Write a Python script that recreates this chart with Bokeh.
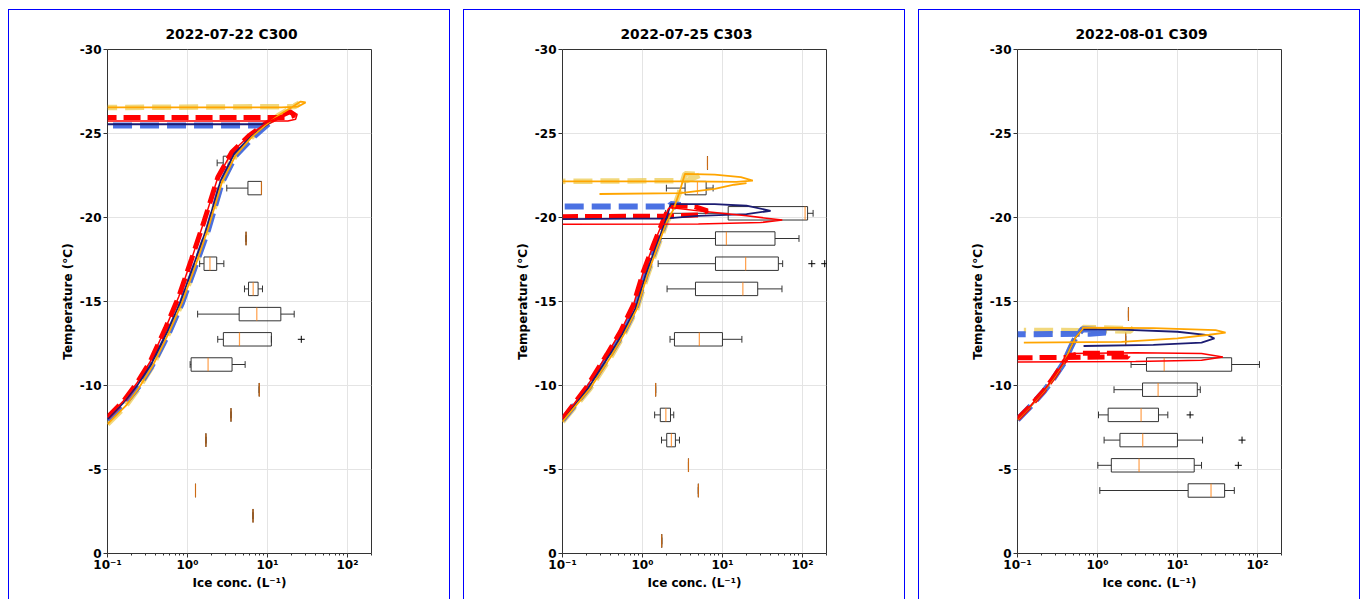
from bokeh.plotting import figure
from bokeh.models import Range1d, FixedTicker, ColumnDataSource
from bokeh.layouts import row
from bokeh.embed import file_html
from bokeh.resources import INLINE

TITLES = ["2022-07-22 C300", "2022-07-25 C303", "2022-08-01 C309"]
X_TICKS = [0.1, 1, 10, 100]
X_TICK_LABELS = ["10⁻¹", "10⁰", "10¹", "10²"]
Y_TICKS = [-30, -25, -20, -15, -10, -5, 0]
Y_TICK_LABELS = ["-30", "-25", "-20", "-15", "-10", "-5", "0"]

# ---------------- boxplot statistics (temperature bin centre, whiskers, quartiles, median)
P1_T = [-23.25, -21.75, -18.75, -17.25, -15.75, -14.25, -12.75, -11.25, -9.75, -8.25, -6.75, -3.75, -2.25]
P1_LO = [2.35, 3.1, 5.4, 1.42, 5.16, 1.34, 2.39, 1.08, 7.9, 3.5, 1.7, 1.26, 6.6]
P1_Q1 = [2.8, 5.7, 5.4, 1.61, 5.8, 4.43, 2.81, 1.11, 7.9, 3.5, 1.7, 1.26, 6.6]
P1_MED = [3.2, 8.4, 5.4, 1.91, 6.63, 7.36, 4.47, 1.81, 7.9, 3.5, 1.7, 1.26, 6.6]
P1_Q3 = [3.47, 8.43, 5.4, 2.32, 7.64, 14.7, 11.2, 3.61, 7.9, 3.5, 1.7, 1.26, 6.6]
P1_HI = [3.47, 8.43, 5.4, 2.85, 8.67, 21.6, 11.2, 5.26, 7.9, 3.5, 1.7, 1.26, 6.6]
P1_FLIER_T = [-12.75]
P1_FLIER_X = [26.5]

P2_T = [-23.25, -21.75, -20.25, -18.75, -17.25, -15.75, -12.75, -9.75, -8.25, -6.75, -5.25, -3.75, -0.75]
P2_LO = [6.5, 1.99, 1.95, 1.51, 1.57, 2.03, 2.21, 1.46, 1.42, 1.73, 3.76, 5.0, 1.74]
P2_Q1 = [6.5, 3.41, 11.8, 8.18, 8.18, 4.6, 2.51, 1.46, 1.67, 2.01, 3.76, 5.0, 1.74]
P2_MED = [6.5, 4.87, 108, 11.2, 19.5, 18.0, 5.14, 1.46, 1.96, 2.30, 3.76, 5.0, 1.74]
P2_Q3 = [6.5, 6.25, 116, 45.4, 50.0, 27.6, 10.0, 1.46, 2.24, 2.58, 3.76, 5.0, 1.74]
P2_HI = [6.5, 7.64, 136, 90.6, 56.6, 55.5, 17.5, 1.46, 2.46, 2.90, 3.76, 5.0, 1.74]
P2_FLIER_T = [-17.25, -17.25]
P2_FLIER_X = [131, 190]

P3_T = [-14.25, -12.75, -11.25, -9.75, -8.25, -6.75, -5.25, -3.75]
P3_LO = [2.44, 2.25, 2.63, 1.61, 1.03, 1.21, 1.01, 1.07]
P3_Q1 = [2.44, 2.25, 4.10, 3.66, 1.36, 1.91, 1.49, 13.6]
P3_MED = [2.44, 2.25, 6.83, 5.73, 3.51, 3.68, 3.31, 26.3]
P3_Q3 = [2.44, 2.25, 47.6, 17.7, 5.79, 10.0, 16.2, 38.9]
P3_HI = [2.44, 2.25, 106, 19.3, 7.58, 20.6, 20.0, 51.4]
P3_FLIER_T = [-8.25, -6.75, -5.25]
P3_FLIER_X = [14.4, 64.2, 57.7]

# ---------------- profiles (ice conc., temperature)
# panel 1
P1_RISE_X = [0.1, 0.16, 0.235, 0.35, 0.56, 0.82, 1.2, 1.75, 2.6, 3.85, 6.2, 9.0, 11.0]
P1_RISE_T = [-8.0, -9.0, -10.0, -11.25, -13.2, -15.0, -17.2, -19.4, -22.2, -23.8, -24.8, -25.4, -25.7]
P1_BLUE_RISE_X = [0.1, 0.165, 0.245, 0.36, 0.58, 0.85, 1.25, 1.82, 2.7, 4.0, 6.5, 9.3, 11.0]
P1_BLUE_RISE_T = [-7.95, -8.95, -9.95, -11.2, -13.1, -14.9, -17.1, -19.3, -22.1, -23.7, -24.75, -25.4, -25.7]
P1_RED_RISE_X = [0.1, 0.16, 0.23, 0.34, 0.53, 0.78, 1.12, 1.62, 2.4, 3.6, 6.0, 9.5, 14.0, 19.0]
P1_RED_RISE_T = [-8.1, -9.1, -10.1, -11.4, -13.4, -15.3, -17.5, -19.8, -22.4, -23.9, -24.9, -25.6, -26.0, -26.3]
P1_YEL_RISE_X = [0.1, 0.17, 0.25, 0.37, 0.58, 0.85, 1.25, 1.8, 2.7, 4.0, 6.4, 9.5, 14.0, 20.0]
P1_YEL_RISE_T = [-7.7, -8.8, -9.9, -11.2, -13.1, -14.9, -17.1, -19.3, -22.1, -23.7, -24.8, -25.5, -26.1, -26.55]

P1_NAVY_X = P1_RISE_X + [9.0, 0.1]
P1_NAVY_T = P1_RISE_T + [-25.55, -25.55]
P1_BLUE_X = P1_BLUE_RISE_X + [9.5, 0.1]
P1_BLUE_T = P1_BLUE_RISE_T + [-25.48, -25.48]
P1_REDD_X = P1_RED_RISE_X + [22.0, 18.0, 0.1]
P1_REDD_T = P1_RED_RISE_T + [-26.1, -25.95, -25.95]
P1_RED_X = P1_RED_RISE_X + [23.5, 22.5, 18.0, 0.1]
P1_RED_T = P1_RED_RISE_T + [-26.15, -25.85, -25.75, -25.75]
P1_ORANGE_X = P1_YEL_RISE_X + [26.0, 30.0, 24.0, 15.0, 0.1]
P1_ORANGE_T = P1_YEL_RISE_T + [-26.9, -26.85, -26.6, -26.55, -26.55]
P1_YEL_X = P1_YEL_RISE_X + [25.0, 22.0, 0.1]
P1_YEL_T = P1_YEL_RISE_T + [-26.8, -26.6, -26.55]

# panel 2
P2_RISE_X = [0.1, 0.21, 0.38, 0.56, 0.82, 1.1, 1.46, 1.95, 2.25]
P2_RISE_T = [-7.95, -9.85, -11.75, -13.05, -14.6, -16.6, -18.2, -19.8, -20.8]
P2_RED_RISE_X = [0.1, 0.2, 0.36, 0.53, 0.77, 1.03, 1.38, 1.85, 2.1]
P2_RED_RISE_T = [-8.0, -9.9, -11.85, -13.2, -14.8, -16.8, -18.4, -19.9, -20.5]
P2_YEL_RISE_X = [0.1, 0.22, 0.4, 0.58, 0.85, 1.14, 1.5, 2.0, 2.45, 2.9, 3.4]
P2_YEL_RISE_T = [-7.85, -9.8, -11.7, -13.0, -14.55, -16.5, -18.1, -19.7, -20.5, -21.5, -22.6]

P2_NAVY_X = P2_RISE_X + [8.0, 20.0, 40.0, 20.0, 5.0, 2.0, 0.1]
P2_NAVY_T = P2_RISE_T + [-20.8, -20.7, -20.4, -20.2, -20.1, -19.95, -19.9]
P2_BLUE_X = P2_RISE_X + [3.0, 2.5, 0.1]
P2_BLUE_T = P2_RISE_T + [-20.75, -20.65, -20.65]
P2_RED_X = P2_RED_RISE_X + [2.2, 6.0, 20.0, 56.0, 30.0, 5.0, 0.1]
P2_RED_T = P2_RED_RISE_T + [-20.6, -20.35, -20.1, -19.85, -19.7, -19.62, -19.6]
P2_REDD_X = P2_RED_RISE_X + [2.5, 4.5, 6.5, 5.0, 2.0, 0.1]
P2_REDD_T = P2_RED_RISE_T + [-20.7, -20.65, -20.4, -20.15, -20.08, -20.05]
P2_ORANGE_X = P2_YEL_RISE_X + [8.0, 17.0, 24.0, 15.0, 3.6, 0.1]
P2_ORANGE_T = P2_YEL_RISE_T + [-22.55, -22.4, -22.2, -22.12, -22.15, -22.15]
P2_ORANGE2_X = [0.29, 3.0, 8.0, 14.0, 20.0]
P2_ORANGE2_T = [-21.4, -21.45, -21.7, -21.95, -22.05]
P2_YEL_X = P2_YEL_RISE_X + [5.4, 3.6, 0.1]
P2_YEL_T = P2_YEL_RISE_T + [-22.55, -22.2, -22.15]

# panel 3
P3_RISE_X = [0.1, 0.146, 0.214, 0.285, 0.38, 0.46, 0.53, 0.65]
P3_RISE_T = [-7.97, -8.77, -9.66, -10.45, -11.35, -12.24, -12.84, -13.35]
P3_RED_RISE_X = [0.1, 0.146, 0.214, 0.285, 0.38, 0.42]
P3_RED_RISE_T = [-8.0, -8.8, -9.7, -10.5, -11.4, -11.7]

P3_NAVY_X = P3_RISE_X + [2.0, 10.0, 24.0, 29.0, 20.0, 5.0, 0.67]
P3_NAVY_T = P3_RISE_T + [-13.32, -13.2, -13.0, -12.8, -12.55, -12.42, -12.35]
P3_ORANGE_X = P3_RISE_X + [0.66, 5.0, 30.0, 40.0, 25.0, 10.0, 2.0, 0.12]
P3_ORANGE_T = P3_RISE_T + [-13.45, -13.42, -13.3, -13.15, -13.02, -12.8, -12.6, -12.55]
P3_BLUE_X = P3_RISE_X + [1.0, 1.27, 0.8, 0.1]
P3_BLUE_T = P3_RISE_T + [-13.3, -13.15, -13.08, -13.05]
P3_YEL_X = P3_RISE_X + [0.66, 2.7, 2.6, 0.12]
P3_YEL_T = P3_RISE_T + [-13.45, -13.38, -13.25, -13.28]
P3_REDD_X = P3_RED_RISE_X + [0.6, 2.4, 2.4, 0.1]
P3_REDD_T = P3_RED_RISE_T + [-11.92, -11.92, -11.7, -11.65]
P3_RED_X = P3_RED_RISE_X + [0.45, 3.0, 20.0, 37.0, 20.0, 3.0, 0.1]
P3_RED_T = P3_RED_RISE_T + [-11.9, -11.95, -11.9, -11.7, -11.5, -11.43, -11.4]

# ---------------- styles
DASHED = {
    "yellow": dict(line_color="#ecc94b", line_alpha=0.72, line_width=5.5, line_dash="19 8"),
    "blue": dict(line_color="#4169e1", line_alpha=0.95, line_width=6, line_dash="19 8"),
    "red": dict(line_color="#ff0000", line_alpha=1.0, line_width=5, line_dash="17 7"),
}
THIN = {
    "navy": dict(line_color="#1c1c72", line_width=1.8),
    "orange": dict(line_color="#ffa500", line_width=1.8),
    "red": dict(line_color="#ff0000", line_width=1.5),
}
FONT = "DejaVu Sans"
BOX_COLOR = "#333333"
MED_COLOR = "#ff7f0e"
BOX_H = 0.8
CAP_H = 0.4


def make_panel(title, T, lo, q1, med, q3, hi, fT, fX, dashed, thin):
    p = figure(title=title, x_axis_type="log",
               x_range=Range1d(0.1, 200), y_range=Range1d(0, -30),
               frame_width=262, frame_height=503,
               min_border_left=98, min_border_right=80,
               min_border_top=39, min_border_bottom=47,
               output_backend="svg", toolbar_location=None,
               background_fill_color="white", border_fill_color="white")
    p.styles = {"border-top": "1px solid blue", "border-left": "1px solid blue",
                "border-right": "1px solid blue"}
    p.title.align = "left"
    p.title.offset = 58
    p.title.standoff = 15
    p.title.text_font = FONT
    p.title.text_font_style = "bold"
    p.title.text_font_size = "13.8px"
    p.title.text_color = "black"
    p.outline_line_color = BOX_COLOR
    p.outline_line_alpha = 1.0
    p.outline_line_width = 1

    minor = [m * 10.0 ** e for e in (-1, 0, 1, 2) for m in range(2, 10) if m * 10.0 ** e <= 200]
    p.xaxis.ticker = FixedTicker(ticks=X_TICKS, minor_ticks=minor)
    p.xaxis.major_label_overrides = {t: s for t, s in zip(X_TICKS, X_TICK_LABELS)}
    p.yaxis.ticker = FixedTicker(ticks=Y_TICKS)
    p.yaxis.major_label_overrides = {t: s for t, s in zip(Y_TICKS, Y_TICK_LABELS)}
    p.xaxis.axis_label = "Ice conc. (L⁻¹)"
    p.yaxis.axis_label = "Temperature (°C)"
    for ax in (p.xaxis[0], p.yaxis[0]):
        ax.axis_line_color = None
        ax.major_tick_line_color = BOX_COLOR
        ax.minor_tick_line_color = BOX_COLOR
        ax.major_tick_out = 4
        ax.major_tick_in = 0
        ax.minor_tick_out = 2
        ax.minor_tick_in = 0
        ax.major_label_text_font = FONT
        ax.major_label_text_font_style = "bold"
        ax.major_label_text_font_size = "12px"
        ax.major_label_text_color = "black"
        ax.axis_label_text_font = FONT
        ax.axis_label_text_font_style = "bold"
        ax.axis_label_text_font_size = "12px"
        ax.axis_label_text_color = "black"
    p.xaxis.major_label_standoff = 0
    p.xaxis.axis_label_standoff = 1
    p.yaxis.major_label_standoff = 2
    p.yaxis.axis_label_standoff = 2
    p.xgrid.grid_line_color = "#e4e4e4"
    p.ygrid.grid_line_color = "#e4e4e4"
    p.xgrid.ticker = FixedTicker(ticks=X_TICKS)
    p.ygrid.ticker = FixedTicker(ticks=Y_TICKS)

    src = ColumnDataSource(dict(
        T=T, lo=lo, q1=q1, med=med, q3=q3, hi=hi,
        top=[t - BOX_H / 2 for t in T], bot=[t + BOX_H / 2 for t in T],
        ctop=[t - CAP_H / 2 for t in T], cbot=[t + CAP_H / 2 for t in T]))
    kw = dict(source=src, line_color=BOX_COLOR, line_width=1)
    p.segment(x0="lo", y0="T", x1="q1", y1="T", **kw)
    p.segment(x0="q3", y0="T", x1="hi", y1="T", **kw)
    p.segment(x0="lo", y0="ctop", x1="lo", y1="cbot", **kw)
    p.segment(x0="hi", y0="ctop", x1="hi", y1="cbot", **kw)
    p.segment(x0="q1", y0="top", x1="q1", y1="bot", **kw)
    p.segment(x0="q3", y0="top", x1="q3", y1="bot", **kw)
    p.segment(x0="q1", y0="top", x1="q3", y1="top", **kw)
    p.segment(x0="q1", y0="bot", x1="q3", y1="bot", **kw)
    p.segment(x0="med", y0="top", x1="med", y1="bot", source=src,
              line_color=MED_COLOR, line_width=1.2, line_alpha=0.75)
    p.scatter(x=fX, y=fT, marker="cross", size=7, line_color="black", line_width=1)

    for key, xs, ts in dashed:
        p.line(xs, ts, **DASHED[key])
    for key, xs, ts in thin:
        p.line(xs, ts, **THIN[key])
    return p


p1 = make_panel(TITLES[0], P1_T, P1_LO, P1_Q1, P1_MED, P1_Q3, P1_HI, P1_FLIER_T, P1_FLIER_X,
                [("yellow", P1_YEL_X, P1_YEL_T), ("blue", P1_BLUE_X, P1_BLUE_T), ("red", P1_REDD_X, P1_REDD_T)],
                [("navy", P1_NAVY_X, P1_NAVY_T), ("orange", P1_ORANGE_X, P1_ORANGE_T), ("red", P1_RED_X, P1_RED_T)])
p2 = make_panel(TITLES[1], P2_T, P2_LO, P2_Q1, P2_MED, P2_Q3, P2_HI, P2_FLIER_T, P2_FLIER_X,
                [("yellow", P2_YEL_X, P2_YEL_T), ("blue", P2_BLUE_X, P2_BLUE_T), ("red", P2_REDD_X, P2_REDD_T)],
                [("navy", P2_NAVY_X, P2_NAVY_T), ("orange", P2_ORANGE_X, P2_ORANGE_T),
                 ("orange", P2_ORANGE2_X, P2_ORANGE2_T), ("red", P2_RED_X, P2_RED_T)])
p3 = make_panel(TITLES[2], P3_T, P3_LO, P3_Q1, P3_MED, P3_Q3, P3_HI, P3_FLIER_T, P3_FLIER_X,
                [("yellow", P3_YEL_X, P3_YEL_T), ("blue", P3_BLUE_X, P3_BLUE_T), ("red", P3_REDD_X, P3_REDD_T)],
                [("navy", P3_NAVY_X, P3_NAVY_T), ("orange", P3_ORANGE_X, P3_ORANGE_T), ("red", P3_RED_X, P3_RED_T)])

layout = row(p1, p2, p3, spacing=13, margin=(9, 0, 0, 8))
open("out.html", "w").write(file_html(layout, INLINE))
